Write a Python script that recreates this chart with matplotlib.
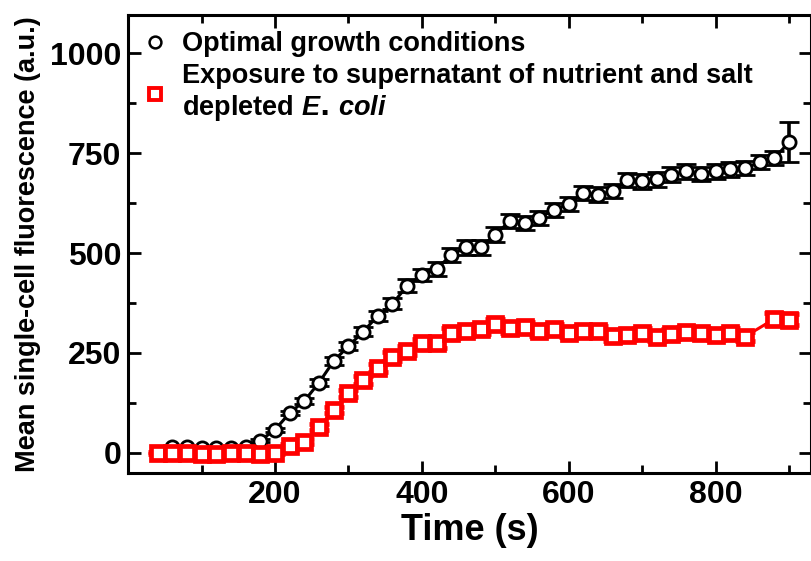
import numpy as np
import matplotlib
matplotlib.use('Agg')
import matplotlib.pyplot as plt
from matplotlib.lines import Line2D

plt.rcParams['font.family'] = 'Liberation Sans'
plt.rcParams['font.weight'] = 'bold'
plt.rcParams['axes.labelweight'] = 'bold'
plt.rcParams['mathtext.fontset'] = 'custom'
plt.rcParams['mathtext.it'] = 'Liberation Sans:italic:bold'

## --optimal growth conditions
t_opt = [60, 80, 100, 120, 140, 160, 180, 200, 220, 240, 260, 280, 300, 320, 340,
         360, 380, 400, 420, 440, 460, 480, 500, 520, 540, 560, 580, 600, 620, 640,
         660, 680, 700, 720, 740, 760, 780, 800, 820, 840, 860, 880, 900]
f_opt = [15, 15, 13, 13, 13, 15, 31, 58, 100, 130, 176, 230, 267, 303, 343,
         373, 418, 445, 460, 495, 514, 514, 546, 580, 575, 588, 608, 623, 650, 646,
         655, 682, 679, 684, 696, 704, 698, 704, 709, 712, 727, 737, 777]
e_opt = [3, 3, 3, 3, 3, 3, 4, 5, 6, 7, 8, 9, 10, 11, 12,
         14, 16, 15, 17, 18, 18, 18, 18, 18, 18, 17, 18, 18, 18, 18,
         18, 18, 18, 18, 18, 18, 18, 18, 18, 18, 18, 18, 50]

## --supernatant exposure
t_sup = [40, 60, 80, 100, 120, 140, 160, 180, 200, 220, 240, 260, 280, 300, 320,
         340, 360, 380, 400, 420, 440, 460, 480, 500, 520, 540, 560, 580, 600, 620,
         640, 660, 680, 700, 720, 740, 760, 780, 800, 820, 840, 880, 900]
f_sup = [0, 0, 0, -3, -2, 0, 0, -2, 0, 18, 28, 65, 107, 149, 182,
         212, 241, 256, 274, 274, 300, 304, 310, 323, 312, 315, 304, 310, 301, 306,
         306, 293, 295, 301, 291, 297, 303, 301, 295, 300, 291, 335, 333]
e_sup = [3, 3, 3, 3, 3, 3, 3, 3, 3, 5, 6, 7, 8, 9, 10,
         10, 11, 11, 12, 12, 12, 12, 12, 12, 12, 12, 12, 12, 12, 12,
         12, 12, 12, 12, 12, 12, 12, 12, 12, 12, 12, 14, 14]

fig = plt.figure(figsize=(8.11, 5.61), dpi=100)
ax = fig.add_axes([0.158, 0.157, 0.842, 0.816])

ax.errorbar(t_opt, f_opt, yerr=e_opt, color='black', lw=2.2, elinewidth=2.6,
            capsize=7, capthick=2.8, marker='o', ms=9.5, mfc='white',
            mec='black', mew=2.0, zorder=2)
ax.errorbar(t_sup, f_sup, yerr=e_sup, color='#ff0000', lw=2.2, elinewidth=2.6,
            capsize=7, capthick=2.8, marker='s', ms=9.5, mfc='white',
            mec='#ff0000', mew=3.4, zorder=3)

ax.set_xlim(0, 930)
ax.set_ylim(-50, 1095)
ax.set_xticks([200, 400, 600, 800])
ax.set_xticks([100, 300, 500, 700, 900], minor=True)
ax.set_yticks([0, 250, 500, 750, 1000])
ax.set_yticks([125, 375, 625, 875], minor=True)
ax.tick_params(which='both', direction='in', top=True, right=True, width=2)
ax.tick_params(which='major', length=9, labelsize=23, pad=5)
ax.tick_params(which='minor', length=6)
for s in ax.spines.values():
    s.set_linewidth(2.2)

ax.set_xlabel('Time (s)', fontsize=26, labelpad=2)
ax.set_ylabel('Mean single-cell fluorescence (a.u.)', fontsize=19.5, labelpad=6)

h1 = Line2D([], [], ls='none', marker='o', ms=8.5, mfc='white', mec='black', mew=1.8)
h2 = Line2D([], [], ls='none', marker='s', ms=8, mfc='white', mec='#ff0000', mew=2.8)
ax.legend([h1, h2],
          ['Optimal growth conditions',
           'Exposure to supernatant of nutrient and salt\ndepleted $\\mathit{E.\\,coli}$'],
          loc='upper left', bbox_to_anchor=(0.0, 1.0), frameon=False,
          fontsize=19.5, handlelength=0.8, handletextpad=0.6,
          labelspacing=0.2, borderaxespad=0.3, borderpad=0.3)

plt.savefig('out.png', dpi=100)
